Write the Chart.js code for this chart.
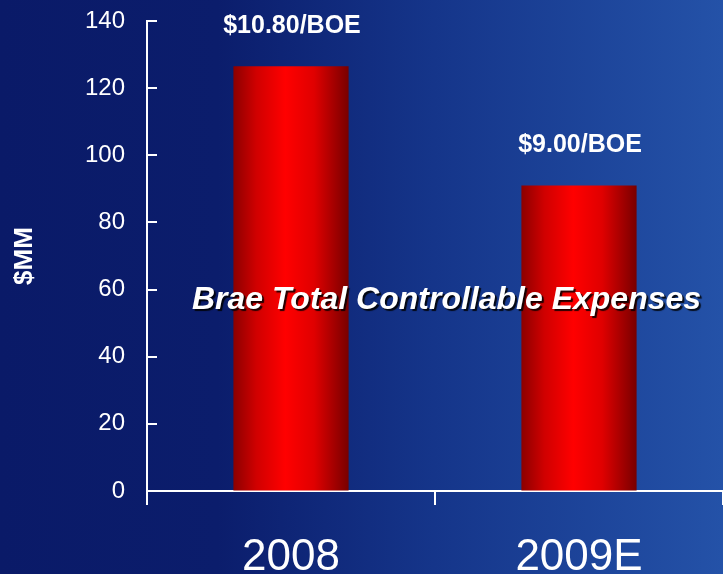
<!DOCTYPE html>
<html>
<head>
<meta charset="utf-8">
<script src="https://cdn.jsdelivr.net/npm/chart.js@4.4.1/dist/chart.umd.min.js"></script>
<style>
  html, body { margin: 0; padding: 0; }
  body {
    width: 723px; height: 574px; overflow: hidden;
    background: linear-gradient(to right, #0a1a68 0%, #0b1d6c 30%, #15358a 60%, #2452a8 100%);
  }
  #wrap { position: relative; width: 723px; height: 574px; }
</style>
</head>
<body>
<div id="wrap"><canvas id="gastos"></canvas></div>
<script>
// datos del grafico
var anios = ['2008', '2009E'];
var gastos = [126.5, 91];
var etiquetas = ['$10.80/BOE', '$9.00/BOE'];
var ticksY = [0, 20, 40, 60, 80, 100, 120, 140];
var tituloCentro = 'Brae Total Controllable Expenses';

// degradado rojo de cada barra
function colorBarra(ctx) {
  var chart = ctx.chart;
  var sx = chart.scales.x;
  if (!sx || !chart.chartArea) { return '#ff0000'; }
  var cx = sx.getPixelForValue(ctx.dataIndex);
  var ancho = (sx.width / anios.length) * 0.4;
  var g = chart.ctx.createLinearGradient(cx - ancho / 2, 0, cx + ancho / 2, 0);
  g.addColorStop(0, '#8c0000');
  g.addColorStop(0.2, '#d00000');
  g.addColorStop(0.45, '#ff0000');
  g.addColorStop(0.7, '#e00000');
  g.addColorStop(1, '#780000');
  return g;
}

// marcas hacia adentro del eje Y, etiquetas y titulo central
var extras = {
  id: 'extras',
  afterDraw: function(chart) {
    var c = chart.ctx;
    var sy = chart.scales.y;
    var area = chart.chartArea;
    c.save();
    c.strokeStyle = '#ffffff';
    c.lineWidth = 2;
    for (var i = 0; i < ticksY.length; i++) {
      var py = Math.round(sy.getPixelForValue(ticksY[i]));
      c.beginPath();
      c.moveTo(area.left, py);
      c.lineTo(area.left + 10, py);
      c.stroke();
    }
    c.fillStyle = '#ffffff';
    c.textAlign = 'center';
    c.textBaseline = 'middle';
    c.font = 'bold 25px "Liberation Sans", Arial, sans-serif';
    var meta = chart.getDatasetMeta(0);
    meta.data.forEach(function(bar, i) {
      c.fillText(etiquetas[i], bar.x + 1, bar.y - 40);
    });
    c.font = 'italic bold 32px "Liberation Sans", Arial, sans-serif';
    c.shadowColor = 'rgba(0,0,0,0.85)';
    c.shadowOffsetX = 2;
    c.shadowOffsetY = 2;
    c.shadowBlur = 1;
    c.fillText(tituloCentro, area.left + (area.right - area.left) * 0.52, (sy.getPixelForValue(60) + sy.getPixelForValue(50)) / 2 - 6);
    c.restore();
  }
};

var ctx = document.getElementById('gastos');
var config = {
  type: 'bar',
  data: {
    labels: anios,
    datasets: [{
      data: gastos,
      backgroundColor: colorBarra,
      borderWidth: 0,
      categoryPercentage: 0.8,
      barPercentage: 0.5
    }]
  },
  options: {
    responsive: true,
    maintainAspectRatio: false,
    animation: false,
    layout: { padding: { top: 21, right: 0, bottom: 0, left: 0 } },
    plugins: {
      legend: { display: false },
      tooltip: { enabled: false }
    },
    scales: {
      x: {
        afterFit: function(scale) { scale.height = 83; },
        grid: {
          offset: true,
          drawOnChartArea: false,
          drawTicks: true,
          tickLength: 14,
          color: '#ffffff',
          lineWidth: 2
        },
        border: { display: true, color: '#ffffff', width: 2 },
        ticks: {
          color: '#ffffff',
          padding: 31,
          font: { family: '"Liberation Sans", Arial, sans-serif', size: 44, lineHeight: 1.0 }
        }
      },
      y: {
        min: 0,
        max: 140,
        afterFit: function(scale) { scale.width = 147; },
        grid: {
          display: true,
          drawOnChartArea: false,
          drawTicks: true,
          tickLength: 22,
          tickColor: 'rgba(0,0,0,0)'
        },
        border: { display: true, color: '#ffffff', width: 2 },
        ticks: {
          stepSize: 20,
          color: '#ffffff',
          padding: 0,
          font: { family: '"Liberation Sans", Arial, sans-serif', size: 24 }
        },
        title: {
          display: true,
          text: '$MM',
          color: '#ffffff',
          padding: { top: 9, bottom: 0 },
          font: { family: '"Liberation Sans", Arial, sans-serif', size: 26, weight: 'bold' }
        }
      }
    }
  },
  plugins: [extras]
};
window.miGrafico = new Chart(ctx, config);
</script>
</body>
</html>
